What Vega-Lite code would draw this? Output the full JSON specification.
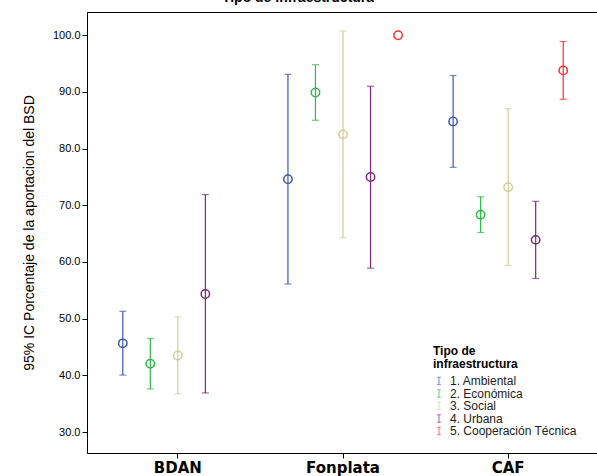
{
  "$schema": "https://vega.github.io/schema/vega-lite/v6.json",
  "width": 512,
  "height": 441,
  "autosize": {"type": "none"},
  "padding": {"left": 87, "top": 12, "right": 0, "bottom": 23},
  "title": {"text": "Tipo de infraestructura", "fontSize": 14, "font": "Liberation Sans", "fontWeight": "bold", "anchor": "middle", "dx": -45, "offset": 7, "color": "black"},
  "config": {
    "view": {"stroke": "black", "strokeWidth": 1},
    "font": "Liberation Sans",
    "axis": {"grid": false, "domainColor": "black", "tickColor": "black", "labelColor": "black", "titleColor": "black", "labelFont": "Liberation Sans", "titleFont": "Liberation Sans"}
  },
  "data": {"values": [
    {"banco": "BDAN", "tipo": "1. Ambiental", "lo": 40.05, "mean": 45.65, "hi": 51.3},
    {"banco": "BDAN", "tipo": "2. Económica", "lo": 37.6, "mean": 42.05, "hi": 46.5},
    {"banco": "BDAN", "tipo": "3. Social", "lo": 36.75, "mean": 43.5, "hi": 50.3},
    {"banco": "BDAN", "tipo": "4. Urbana", "lo": 36.9, "mean": 54.35, "hi": 71.9},
    {"banco": "Fonplata", "tipo": "1. Ambiental", "lo": 56.1, "mean": 74.6, "hi": 93.1},
    {"banco": "Fonplata", "tipo": "2. Económica", "lo": 85.0, "mean": 89.9, "hi": 94.8},
    {"banco": "Fonplata", "tipo": "3. Social", "lo": 64.3, "mean": 82.5, "hi": 100.76},
    {"banco": "Fonplata", "tipo": "4. Urbana", "lo": 58.9, "mean": 75.0, "hi": 91.0},
    {"banco": "Fonplata", "tipo": "5. Cooperación Técnica", "lo": null, "mean": 100.0, "hi": null},
    {"banco": "CAF", "tipo": "1. Ambiental", "lo": 76.7, "mean": 84.8, "hi": 92.9},
    {"banco": "CAF", "tipo": "2. Económica", "lo": 65.2, "mean": 68.35, "hi": 71.5},
    {"banco": "CAF", "tipo": "3. Social", "lo": 59.4, "mean": 73.2, "hi": 87.05},
    {"banco": "CAF", "tipo": "4. Urbana", "lo": 57.1, "mean": 63.9, "hi": 70.7},
    {"banco": "CAF", "tipo": "5. Cooperación Técnica", "lo": 88.7, "mean": 93.8, "hi": 98.9}
  ]},
  "encoding": {
    "x": {"field": "banco", "type": "nominal", "sort": ["BDAN", "Fonplata", "CAF"],
      "scale": {"paddingInner": 0, "paddingOuter": 0.05},
      "axis": {"title": null, "labelAngle": 0, "labelFont": "DejaVu Sans", "labelFontSize": 15, "labelFontWeight": "bold", "tickSize": 5, "labelPadding": 2}},
    "xOffset": {"field": "tipo", "type": "nominal", "sort": ["1. Ambiental", "2. Económica", "3. Social", "4. Urbana", "5. Cooperación Técnica"], "scale": {"type": "point", "padding": 1.1}},
    "color": {"field": "tipo", "type": "nominal",
      "scale": {"domain": ["1. Ambiental", "2. Económica", "3. Social", "4. Urbana", "5. Cooperación Técnica"], "range": ["#3E58AC", "#2EB848", "#D3CE97", "#7C287D", "#FB2C2C"]},
      "legend": {"orient": "none", "legendX": 346, "legendY": 334, "title": ["Tipo de", "infraestructura"], "titleFontSize": 12, "titleFontWeight": "bold", "titleLineHeight": 13, "titleColor": "black", "titlePadding": 4, "labelFontSize": 12, "labelColor": "#222", "symbolType": "M-0.5,-1H0.5M0,-1V1M-0.5,1H0.5", "symbolSize": 55, "symbolStrokeWidth": 1, "symbolFillColor": "transparent", "rowPadding": 0.5, "labelOffset": 5}}
  },
  "layer": [
    {"mark": {"type": "rule", "strokeWidth": 1.2},
      "encoding": {
        "y": {"field": "lo", "type": "quantitative", "scale": {"domain": [26.3, 104.1], "nice": false, "zero": false},
          "axis": {"values": [30, 40, 50, 60, 70, 80, 90, 100], "format": ".1f", "labelFontSize": 11, "tickSize": 5, "labelPadding": 2, "title": "95% IC Porcentaje de la aportacion del BSD", "titleFontSize": 14, "titleFontWeight": "normal", "titlePadding": 16}},
        "y2": {"field": "hi"}}},
    {"mark": {"type": "tick", "size": 7, "thickness": 1.2, "orient": "horizontal"},
      "encoding": {"y": {"field": "lo", "type": "quantitative"}}},
    {"mark": {"type": "tick", "size": 7, "thickness": 1.2, "orient": "horizontal"},
      "encoding": {"y": {"field": "hi", "type": "quantitative"}}},
    {"mark": {"type": "point", "shape": "circle", "filled": false, "size": 70, "strokeWidth": 1.5, "opacity": 1},
      "encoding": {"y": {"field": "mean", "type": "quantitative"}}}
  ]
}
